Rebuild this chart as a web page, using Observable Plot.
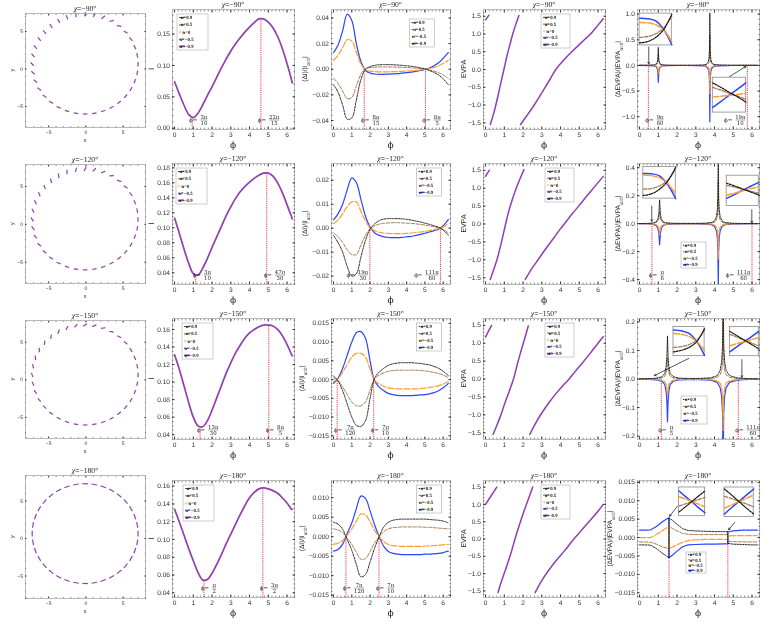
<!DOCTYPE html>
<html><head><meta charset="utf-8">
<script src="https://cdn.jsdelivr.net/npm/d3@7"></script>
<script src="https://cdn.jsdelivr.net/npm/@observablehq/plot@0.6"></script>
<style>
body{margin:0;background:#fff;}
#c{position:relative;width:763px;height:631px;overflow:hidden;background:#fff;}
#c svg{position:absolute;overflow:visible;will-change:transform;}
#c svg text{text-rendering:geometricPrecision;}
</style></head><body><div id="c"></div>
<script>
// ---------------- DATA ----------------
const titles = ["−90°", "−120°", "−150°", "−180°"];
const PHI = [0,0.25,0.5,0.75,1,1.25,1.5,1.75,2,2.25,2.5,2.75,3,3.25,3.5,3.75,4,4.25,4.5,4.75,5,5.25,5.5,5.75,6,6.25,6.28];

// column 2 : I(phi)
const I_r1 = [0.074,0.055,0.037,0.022,0.017,0.024,0.037,0.052,0.066,0.081,0.096,0.110,0.123,0.134,0.144,0.153,0.161,0.168,0.174,0.174,0.169,0.160,0.146,0.127,0.103,0.076,0.072];
const I_r2 = [0.113,0.093,0.072,0.053,0.039,0.037,0.046,0.059,0.074,0.088,0.102,0.116,0.128,0.139,0.148,0.155,0.161,0.166,0.170,0.173,0.173,0.169,0.160,0.147,0.131,0.114,0.112];
const I_r3 = [0.131,0.115,0.096,0.077,0.060,0.050,0.049,0.056,0.068,0.082,0.096,0.110,0.122,0.133,0.142,0.150,0.156,0.160,0.163,0.165,0.165,0.164,0.160,0.153,0.143,0.131,0.130];
const I_r4 = [0.134,0.120,0.105,0.090,0.076,0.063,0.0545,0.055,0.062,0.072,0.083,0.095,0.106,0.117,0.128,0.138,0.147,0.153,0.157,0.158,0.157,0.155,0.152,0.147,0.141,0.134,0.134];

// column 3 : dI / I  (alpha = 0.9, 0.5, -0.5, -0.9)
const dI1_a09  = [-0.012,-0.018,-0.028,-0.039,-0.038,-0.024,-0.008,0.000,0.002,0.003,0.0035,0.0036,0.0036,0.0035,0.0033,0.003,0.0027,0.0023,0.0018,0.0011,0.0003,-0.001,-0.0025,-0.0045,-0.0075,-0.0115,-0.012];
const dI1_a05  = [-0.007,-0.011,-0.017,-0.023,-0.022,-0.013,-0.004,0.0003,0.0013,0.0016,0.0018,0.0018,0.0018,0.0017,0.0016,0.0015,0.0013,0.0011,0.0008,0.0005,0.0001,-0.0006,-0.0015,-0.0027,-0.0045,-0.0067,-0.007];
const dI1_am05 = [0.007,0.011,0.017,0.023,0.022,0.013,0.004,-0.0005,-0.0015,-0.0018,-0.002,-0.002,-0.002,-0.0019,-0.0018,-0.0016,-0.0014,-0.0012,-0.0009,-0.0005,-0.0001,0.0006,0.0015,0.0027,0.0045,0.0067,0.007];
const dI1_am09 = [0.013,0.019,0.030,0.043,0.038,0.020,0.006,-0.001,-0.003,-0.0037,-0.004,-0.004,-0.0038,-0.0036,-0.0034,-0.003,-0.0027,-0.0023,-0.0017,-0.001,-0.0002,0.001,0.0028,0.005,0.0085,0.0125,0.013];

const dI2_a09  = [-0.003,-0.006,-0.010,-0.016,-0.020,-0.019,-0.012,-0.005,-0.0005,0.0018,0.0032,0.0038,0.004,0.004,0.004,0.0039,0.0037,0.0034,0.003,0.0026,0.0021,0.0016,0.001,0.0004,-0.0008,-0.0027,-0.003];
const dI2_a05  = [-0.002,-0.0035,-0.006,-0.009,-0.011,-0.011,-0.007,-0.003,-0.0002,0.001,0.0017,0.002,0.0022,0.0023,0.0023,0.0022,0.0021,0.002,0.0018,0.0016,0.0013,0.001,0.0006,0.0002,-0.0005,-0.0018,-0.002];
const dI2_am05 = [0.002,0.0035,0.006,0.009,0.011,0.011,0.007,0.003,0.0002,-0.001,-0.0017,-0.002,-0.0022,-0.0023,-0.0023,-0.0023,-0.0022,-0.002,-0.0018,-0.0016,-0.0013,-0.001,-0.0006,-0.0002,0.0005,0.0018,0.002];
const dI2_am09 = [0.0035,0.006,0.010,0.016,0.021,0.019,0.012,0.005,0.0005,-0.002,-0.003,-0.0036,-0.0038,-0.0039,-0.0039,-0.0038,-0.0036,-0.0034,-0.003,-0.0026,-0.0021,-0.0016,-0.001,-0.0004,0.001,0.0033,0.0036];

const dI3_a09  = [0.001,-0.0004,-0.003,-0.0065,-0.010,-0.0122,-0.0125,-0.011,-0.005,0.0004,0.002,0.003,0.0038,0.0042,0.0044,0.0045,0.0045,0.0045,0.0044,0.0043,0.0041,0.0039,0.0035,0.003,0.0022,0.0012,0.001];
const dI3_a05  = [0.0005,-0.0002,-0.002,-0.004,-0.006,-0.007,-0.007,-0.006,-0.0028,0.0002,0.0012,0.0018,0.0022,0.0024,0.0025,0.0025,0.0025,0.0025,0.0025,0.0024,0.0023,0.0021,0.0019,0.0016,0.0012,0.0006,0.0005];
const dI3_am05 = [-0.0005,0.0002,0.002,0.004,0.006,0.007,0.007,0.006,0.0028,-0.0002,-0.0012,-0.0018,-0.0022,-0.0024,-0.0025,-0.0025,-0.0025,-0.0025,-0.0025,-0.0024,-0.0023,-0.0021,-0.0019,-0.0016,-0.0012,-0.0006,-0.0005];
const dI3_am09 = [-0.001,0.0004,0.003,0.0065,0.010,0.0125,0.0128,0.011,0.005,-0.0004,-0.002,-0.003,-0.0037,-0.004,-0.0042,-0.0043,-0.0043,-0.0043,-0.0042,-0.0041,-0.004,-0.0038,-0.0035,-0.003,-0.0022,-0.0012,-0.001];

const dI4_a09  = [0.0037,0.0032,0.0019,-0.0008,-0.0035,-0.0071,-0.0103,-0.0097,-0.0065,-0.0029,0.0,0.0025,0.0037,0.0042,0.0044,0.0045,0.0045,0.0045,0.0045,0.0045,0.0045,0.0044,0.0043,0.0042,0.004,0.0036,0.0035];
const dI4_a05  = [0.002,0.0017,0.001,-0.0004,-0.002,-0.004,-0.0058,-0.0056,-0.0038,-0.0016,0.0,0.0013,0.002,0.0023,0.0024,0.0025,0.0025,0.0025,0.0025,0.0025,0.0024,0.0024,0.0023,0.0022,0.0021,0.002,0.002];
const dI4_am05 = [-0.002,-0.0017,-0.001,0.0004,0.002,0.004,0.0058,0.0056,0.0038,0.0016,0.0,-0.0013,-0.002,-0.0023,-0.0024,-0.0025,-0.0025,-0.0025,-0.0025,-0.0025,-0.0024,-0.0024,-0.0023,-0.0022,-0.0021,-0.002,-0.002];
const dI4_am09 = [-0.0037,-0.0033,-0.0019,0.0008,0.0035,0.0072,0.0104,0.0098,0.0066,0.003,0.0,-0.0025,-0.0038,-0.0043,-0.0045,-0.0046,-0.0046,-0.0046,-0.0046,-0.0046,-0.0045,-0.0045,-0.0044,-0.0043,-0.0041,-0.0037,-0.0037];

// column 4 : EVPA segments
const evPhi_r1 = [[0,0.09,0.18],[0.25,0.4,0.55,0.7,0.85,1.0,1.15,1.3,1.45,1.6,1.78],[1.87,2.0,2.3,2.6,3.0,3.4,3.75,4.2,4.6,5.0,5.3,5.6,6.0,6.28]];
const ev_r1    = [[1.4,1.46,1.53],[-1.55,-1.3,-1.0,-0.65,-0.3,0.05,0.4,0.7,1.0,1.25,1.52],[-1.55,-1.45,-1.23,-1.0,-0.66,-0.31,0.0,0.28,0.5,0.7,0.85,1.0,1.25,1.43]];
const evPhi_r2 = [[0,0.1,0.2],[0.25,0.45,0.65,0.85,1.07,1.25,1.45,1.65,1.85,2.05],[2.12,2.4,2.8,3.2,3.6,4.0,4.2,4.6,5.0,5.4,5.8,6.28]];
const ev_r2    = [[1.33,1.42,1.5],[-1.55,-1.25,-0.92,-0.5,0.0,0.38,0.72,1.02,1.28,1.52],[-1.55,-1.3,-1.0,-0.7,-0.42,-0.13,0.0,0.27,0.52,0.78,1.03,1.33]];
const evPhi_r3 = [[0,0.15,0.32],[0.4,0.6,0.8,1.0,1.25,1.49,1.7,1.9,2.1,2.28],[2.36,2.6,3.0,3.4,3.8,4.1,4.46,4.8,5.2,5.6,6.0,6.28]];
const ev_r3    = [[1.17,1.33,1.5],[-1.55,-1.3,-1.03,-0.72,-0.36,0.0,0.42,0.8,1.15,1.48],[-1.55,-1.3,-0.95,-0.65,-0.38,-0.2,0.0,0.22,0.47,0.73,1.0,1.18]];
const evPhi_r4 = [[0,0.3,0.6],[0.66,0.85,1.1,1.35,1.57,1.8,2.05,2.3,2.52],[2.64,3.0,3.4,3.8,4.2,4.71,5.2,5.6,6.0,6.28]];
const ev_r4    = [[1.0,1.25,1.5],[-1.55,-1.22,-0.83,-0.42,0.0,0.4,0.8,1.18,1.5],[-1.55,-1.2,-0.88,-0.6,-0.35,0.0,0.3,0.55,0.8,1.0]];

// column 5 : dEVPA / |EVPA|
const p5_r1 = [0,0.5,0.8,0.9,0.95,0.98,1.0,1.02,1.05,1.1,1.2,1.5,2.0,2.5,3.0,3.4,3.55,3.65,3.7,3.73,3.75,3.77,3.8,3.85,3.95,4.25,5.0,5.5,6.0,6.28];
const e1_a09  = [0.0005,0.003,0.012,0.03,0.07,0.15,0.35,0.15,0.07,0.03,0.012,0.004,0.002,0.002,0.003,0.008,0.02,0.06,0.12,0.3,1.02,0.3,0.12,0.06,0.02,0.008,0.002,0.001,0.0005,0.0005];
const e1_a05  = [0.0003,0.0015,0.006,0.015,0.035,0.075,0.2,0.075,0.035,0.015,0.006,0.002,0.001,0.001,0.0015,0.004,0.01,0.03,0.06,0.15,0.6,0.15,0.06,0.03,0.01,0.004,0.001,0.0005,0.0003,0.0003];
const e1_am05 = [-0.0003,-0.0015,-0.006,-0.015,-0.035,-0.07,-0.15,-0.07,-0.035,-0.015,-0.006,-0.002,-0.001,-0.001,-0.0015,-0.004,-0.01,-0.03,-0.06,-0.15,-0.55,-0.15,-0.06,-0.03,-0.01,-0.004,-0.001,-0.0005,-0.0003,-0.0003];
const e1_am09 = [-0.0005,-0.003,-0.012,-0.03,-0.07,-0.15,-0.33,-0.15,-0.07,-0.03,-0.012,-0.004,-0.002,-0.002,-0.003,-0.008,-0.02,-0.06,-0.12,-0.3,-1.1,-0.3,-0.12,-0.06,-0.02,-0.008,-0.002,-0.001,-0.0005,-0.0005];

const p5_r2 = [0,0.5,0.75,0.9,0.98,1.03,1.07,1.11,1.16,1.24,1.4,1.7,2.2,3.0,3.5,3.85,4.0,4.1,4.15,4.18,4.2,4.22,4.25,4.3,4.4,4.55,4.9,5.5,6.0,6.28];
const e2_a09  = [0.0005,0.002,0.006,0.015,0.035,0.07,0.17,0.07,0.035,0.015,0.006,0.003,0.002,0.002,0.003,0.008,0.02,0.05,0.1,0.2,0.55,0.2,0.1,0.05,0.02,0.008,0.003,0.001,0.0005,0.0005];
const e2_a05  = [0.0003,0.001,0.003,0.008,0.018,0.035,0.09,0.035,0.018,0.008,0.003,0.0015,0.001,0.001,0.0015,0.004,0.01,0.025,0.05,0.1,0.3,0.1,0.05,0.025,0.01,0.004,0.0015,0.0005,0.0003,0.0003];
const e2_am05 = [-0.0003,-0.001,-0.003,-0.008,-0.018,-0.035,-0.08,-0.035,-0.018,-0.008,-0.003,-0.0015,-0.001,-0.001,-0.0015,-0.004,-0.01,-0.025,-0.05,-0.1,-0.25,-0.1,-0.05,-0.025,-0.01,-0.004,-0.0015,-0.0005,-0.0003,-0.0003];
const e2_am09 = [-0.0005,-0.002,-0.006,-0.015,-0.035,-0.07,-0.15,-0.07,-0.035,-0.015,-0.006,-0.003,-0.002,-0.002,-0.003,-0.008,-0.02,-0.05,-0.1,-0.2,-0.43,-0.2,-0.1,-0.05,-0.02,-0.008,-0.003,-0.001,-0.0005,-0.0005];

const p5_r3 = [0,0.5,0.9,1.2,1.35,1.42,1.46,1.49,1.52,1.56,1.63,1.8,2.1,2.6,3.2,3.8,4.15,4.3,4.38,4.43,4.46,4.49,4.54,4.62,4.8,5.2,5.8,6.28];
const e3_a09  = [0.0005,0.001,0.003,0.008,0.02,0.045,0.08,0.15,0.08,0.045,0.02,0.008,0.003,0.002,0.002,0.004,0.012,0.03,0.06,0.12,0.35,0.12,0.06,0.03,0.012,0.004,0.001,0.0005];
const e3_a05  = [0.0003,0.0005,0.0015,0.004,0.01,0.022,0.04,0.075,0.04,0.022,0.01,0.004,0.0015,0.001,0.001,0.002,0.006,0.015,0.03,0.06,0.2,0.06,0.03,0.015,0.006,0.002,0.0005,0.0003];
const e3_am05 = [-0.0003,-0.0005,-0.0015,-0.004,-0.01,-0.02,-0.035,-0.06,-0.035,-0.02,-0.01,-0.004,-0.0015,-0.001,-0.001,-0.002,-0.006,-0.015,-0.03,-0.06,-0.18,-0.06,-0.03,-0.015,-0.006,-0.002,-0.0005,-0.0003];
const e3_am09 = [-0.0005,-0.001,-0.003,-0.008,-0.02,-0.045,-0.08,-0.15,-0.08,-0.045,-0.02,-0.008,-0.003,-0.002,-0.002,-0.004,-0.012,-0.03,-0.06,-0.12,-0.35,-0.12,-0.06,-0.03,-0.012,-0.004,-0.001,-0.0005];

const p5_r4 = [0,0.3,0.6,0.9,1.2,1.4,1.57,1.57,1.75,2.0,2.3,2.6,3.0,3.5,4.0,4.5,4.71,4.71,5.0,5.5,6.0,6.28];
const e4_a09  = [-0.002,-0.002,-0.0021,-0.003,-0.0042,-0.0049,-0.0055,0.0053,0.0047,0.0036,0.0024,0.0019,0.0018,0.0017,0.0016,0.0016,0.0016,-0.0016,-0.0018,-0.0019,-0.002,-0.002];
const e4_a05  = [-0.0012,-0.0012,-0.0013,-0.0018,-0.0025,-0.0028,-0.003,0.003,0.0025,0.0018,0.0011,0.0009,0.0008,0.0008,0.0008,0.0008,0.0008,-0.001,-0.0011,-0.0012,-0.0012,-0.0012];
const e4_am05 = [0.0,0.0,0.0,0.0008,0.0018,0.0025,0.003,-0.003,-0.0026,-0.002,-0.0013,-0.0008,-0.0006,-0.0005,-0.0005,-0.0005,-0.0005,0.0004,0.0005,0.0005,0.0005,0.0005];
const e4_am09 = [0.002,0.002,0.0021,0.003,0.0042,0.0049,0.0054,-0.0055,-0.0048,-0.0037,-0.0025,-0.002,-0.0019,-0.0018,-0.0018,-0.0017,-0.0017,0.0015,0.0018,0.002,0.002,0.002];

// insets of column 5: boxes [x1,x2,y1,y2] and local curves (black, brown, orange, blue) on insetT
const insetT = [0,0.25,0.5,0.75,1];
const box_r1 = [[0,1.72,0.39,1.01],[3.91,5.67,-0.92,-0.24]];
const box_r2 = [[0.2,1.93,0.179,0.404],[4.65,6.36,0.127,0.343]];
const box_r3 = [[1.81,3.47,0.080,0.182],[4.82,6.36,0.080,0.182]];
const box_r4 = [[2.11,3.49,0.0058,0.0136],[4.53,6.09,0.0056,0.0136]];
const in_r1A = [[0.08,0.12,0.25,0.5,0.98],[0.25,0.28,0.36,0.55,0.92],[0.72,0.71,0.65,0.48,0.12],[0.85,0.84,0.77,0.5,0.02]];
const in_r1B = [[0.85,0.72,0.58,0.45,0.3],[0.72,0.64,0.55,0.47,0.38],[0.45,0.47,0.5,0.52,0.55],[0.15,0.32,0.5,0.67,0.85]];
const in_r2A = [[0.1,0.15,0.3,0.55,1.0],[0.3,0.32,0.4,0.58,0.95],[0.75,0.73,0.66,0.48,0.15],[0.8,0.79,0.72,0.45,0.0]];
const in_r2B = [[0.75,0.66,0.56,0.46,0.36],[0.68,0.62,0.55,0.48,0.42],[0.35,0.42,0.5,0.57,0.63],[0.25,0.38,0.52,0.65,0.78]];
const in_r3A = [[0.15,0.2,0.3,0.5,0.95],[0.3,0.33,0.4,0.55,0.9],[0.78,0.75,0.68,0.5,0.2],[0.9,0.87,0.78,0.5,0.02]];
const in_r3B = [[0.85,0.7,0.55,0.4,0.25],[0.75,0.65,0.55,0.45,0.35],[0.35,0.43,0.5,0.57,0.63],[0.15,0.33,0.5,0.67,0.85]];
const in_r4A = [[0.15,0.33,0.52,0.7,0.88],[0.35,0.43,0.5,0.58,0.65],[0.68,0.6,0.5,0.42,0.33],[0.88,0.68,0.5,0.3,0.12]];
const in_r4B = [[0.95,0.74,0.52,0.3,0.1],[0.7,0.62,0.53,0.44,0.35],[0.3,0.41,0.52,0.63,0.75],[0.1,0.32,0.53,0.74,0.95]];
// arrows [x1,y1,x2,y2]
const arr_r1 = [[0.49,0.36,0.49,0.03],[4.8,-0.22,5.67,-0.02]];
const arr_r2 = [[0.65,0.126,0.65,0.017],[5.99,0.10,5.99,0.006]];
const arr_r3 = [[2.62,0.072,0.79,0.012],[5.46,0.068,5.46,0.006]];
const arr_r4 = [[2.02,0.0085,1.6,0.0058],[5.08,0.0041,4.75,0.0021]];

// red marker lines [phi, top, numerator, denominator, side]
const mk2_r1 = [[0.94,0.017,"3π","10","r"],[4.61,0.174,"22π","15","r"]];
const mk2_r2 = [[1.13,0.037,"3π","10","r"],[4.92,0.173,"47π","30","r"]];
const mk2_r3 = [[1.36,0.049,"13π","30","r"],[5.03,0.165,"8π","5","r"]];
const mk2_r4 = [[1.57,0.0545,"π","2","r"],[4.71,0.158,"3π","2","r"]];
const mk3_r1 = [[1.68,0,"8π","15","r"],[5.03,0,"8π","5","r"]];
const mk3_r2 = [[1.99,0,"19π","30","l"],[5.85,0,"111π","60","l"]];
const mk3_r3 = [[0.2,0,"7π","120","r"],[2.2,0,"7π","10","r"]];
const mk3_r4 = [[0.68,0,"7π","120","r"],[2.49,0,"7π","10","r"]];
const mk5_r1 = [[0.47,0,"9π","60","r"],[5.75,0,"19π","10","l"]];
const mk5_r2 = [[0.66,0,"π","6","r"],[6.0,0,"111π","60","l"]];
const mk5_r3 = [[1.16,0,"π","5","r"],[5.27,0,"111π","60","r"]];
const mk5_r4 = [[1.57,-0.0052,"","",""],[4.71,-0.0017,"","",""]];

// column 1 : polarization ticks on the ring
const ringX = [7.0,6.89,6.57,6.05,5.34,4.47,3.45,2.33,1.13,-0.1,-1.33,-2.53,-3.65,-4.67,-5.54,-6.25,-6.77,-7.09,-7.2,-7.09,-6.77,-6.25,-5.54,-4.67,-3.65,-2.53,-1.33,-0.1,1.13,2.33,3.45,4.47,5.34,6.05,6.57,6.89];
const ringY = [0.65,1.81,2.92,3.98,4.93,5.74,6.41,6.9,7.2,7.3,7.2,6.9,6.41,5.74,4.93,3.98,2.92,1.81,0.65,-0.51,-1.62,-2.68,-3.63,-4.44,-5.11,-5.6,-5.9,-6.0,-5.9,-5.6,-5.11,-4.44,-3.63,-2.68,-1.62,-0.51];
const ang_r1 = [90,103,116,130,150,170,15,40,62,80,96,110,120,125,128,130,130,132,135,138,140,145,148,152,158,164,172,0,10,20,30,40,50,60,70,80];
const ang_r2 = [90,102,115,128,145,162,4,25,44,60,75,88,98,104,108,112,115,119,124,128,132,139,144,149,156,163,172,0,10,20,30,40,50,60,70,80];
const ang_r3 = [90,101,113,125,139,154,170,7,22,36,49,61,71,78,85,92,97,103,110,117,124,131,138,145,154,162,171,0,10,20,30,40,50,60,70,80];
const ang_r4 = [90,100,110,120,130,140,150,160,170,0,10,20,30,40,50,60,70,80,90,100,110,120,130,140,150,160,170,0,10,20,30,40,50,60,70,80];

// axes
const yd1 = [[-7.8,7.4],[-7.8,7.9],[-7.8,7.9],[-8.0,8.4]];
const yd2 = [[-0.002,0.189],[0.0244,0.1858],[0.0345,0.1725],[0.0347,0.1664]];
const yt2 = [[0,0.05,0.1,0.15],[0.04,0.06,0.08,0.1,0.12,0.14,0.16,0.18],[0.04,0.06,0.08,0.1,0.12,0.14,0.16],[0.04,0.06,0.08,0.1,0.12,0.14,0.16]];
const yd3 = [[-0.047,0.0466],[-0.0235,0.027],[-0.016,0.0163],[-0.0156,0.0144]];
const yt3 = [[-0.04,-0.02,0,0.02,0.04],[-0.02,-0.01,0,0.01,0.02],[-0.015,-0.01,-0.005,0,0.005,0.01,0.015],[-0.015,-0.01,-0.005,0,0.005,0.01]];
const yd4 = [-1.69,1.69];
const yt4 = [-1.5,-1,-0.5,0,0.5,1,1.5];
const yd5 = [[-1.25,1.09],[-0.435,0.43],[-0.212,0.212],[-0.0163,0.0155]];
const yt5 = [[-1,-0.5,0,0.5,1],[-0.4,-0.2,0,0.2,0.4],[-0.2,-0.1,0,0.1,0.2],[-0.015,-0.01,-0.005,0,0.005,0.01,0.015]];
const fmt3 = [".2f",".2f",".3f",".3f"];
const fmt5 = [".1f",".1f",".1f",".3f"];

// ---------------- LAYOUT / HELPERS ----------------
const W = document.getElementById("c");
const ML = 46, MR = 12, MT = 16, MB = 30;
const XD = [-0.11, 6.4], XT = [0,1,2,3,4,5,6];
const SANS = "'Liberation Sans', Arial, sans-serif", SERIF = "'Liberation Serif', 'DejaVu Serif', serif";
const PHIFONT = "'DejaVu Serif', 'Liberation Serif', serif";
const COLX = [[25,145],[172,294],[331,450],[483,605],[637,759]];
const ROWY = [[9,129],[163,284],[318,439],[480,597]];
const C1Y  = [[13,127],[164,283],[320,438],[475,598]];
const PURPLE = "#8f3fb0";
const INK = "#1a1a1a";
const S4 = [ // styles for alpha = 0.9, 0.5, -0.5, -0.9
  {stroke:"#111", strokeWidth:0.9, strokeDasharray:"1.6,1.2"},
  {stroke:"#a87c55", strokeWidth:1.0, strokeDasharray:"3.5,1.5"},
  {stroke:"#ff9d2e", strokeWidth:1.2, strokeDasharray:"6,2"},
  {stroke:"#2b45ff", strokeWidth:1.2}
];
const L5 = [
  {label:"α=0.9", stroke:"#111", sw:0.8},
  {label:"α=0.5", stroke:"#b89a78", sw:1.6},
  {label:"α=0", stroke:"#ffa23a", sw:1, dash:"2,1"},
  {label:"α=−0.5", stroke:"#3050ff", sw:1, dash:"2,1"},
  {label:"α=−0.9", stroke:PURPLE, sw:1.6}
];
const L4 = [
  {label:"α=0.9", stroke:"#111", sw:0.9, dash:"1.4,1"},
  {label:"α=0.5", stroke:"#a87c55", sw:1, dash:"2.5,1"},
  {label:"α=−0.5", stroke:"#ff9d2e", sw:1.2, dash:"3,1"},
  {label:"α=−0.9", stroke:"#2b45ff", sw:1.2}
];
const pts = (xs, ys) => xs.map((x, i) => ({x, y: ys[i]}));
const minor = (dom, step) => d3.range(Math.ceil(dom[0] / step - 1e-9) * step, dom[1] + 1e-9, step);

function panel(cx, cy, o) {
  const [l, r] = cx, [t, b] = cy, w = r - l, h = b - t;
  const tk = o.tk ?? 2.5, xt = o.xt ?? XT;
  const xd = o.xd ?? XD;
  const xm = minor(xd, o.xms ?? 0.2), ym = minor(o.yd, o.yms ?? (o.yt[1] - o.yt[0]) / 5);
  const svg = Plot.plot({
    width: w + ML + MR, height: h + MT + MB,
    marginLeft: ML, marginRight: MR, marginTop: MT, marginBottom: MB,
    x: {domain: xd}, y: {domain: o.yd},
    style: {background: "transparent", fontFamily: SANS, fontSize: (o.fs ?? 6.6) + "px", color: "#333", overflow: "visible"},
    marks: [
      ...o.marks,
      Plot.frame({stroke: "#a8a8a8", strokeWidth: 0.8}),
      Plot.axisX({ticks: xm, tickSize: -tk * 0.55, tickFormat: () => "", label: null, anchor: "bottom", strokeOpacity: 0.6}),
      Plot.axisX({ticks: xm, tickSize: -tk * 0.55, tickFormat: () => "", label: null, anchor: "top", strokeOpacity: 0.6}),
      Plot.axisY({ticks: ym, tickSize: -tk * 0.55, tickFormat: () => "", label: null, anchor: "left", strokeOpacity: 0.6}),
      Plot.axisY({ticks: ym, tickSize: -tk * 0.55, tickFormat: () => "", label: null, anchor: "right", strokeOpacity: 0.6}),
      Plot.axisX({ticks: xt, tickSize: -tk, tickPadding: tk + 2.5, tickFormat: o.xf ?? (d => String(d)), label: null, anchor: "bottom"}),
      Plot.axisX({ticks: xt, tickSize: -tk, tickFormat: () => "", label: null, anchor: "top"}),
      Plot.axisY({ticks: o.yt, tickSize: -tk, tickPadding: tk + 2.5, tickFormat: o.yf, label: null, anchor: "left"}),
      Plot.axisY({ticks: o.yt, tickSize: -tk, tickFormat: () => "", label: null, anchor: "right"}),
      ...(o.over ?? [])
    ]
  });
  svg.style.left = (l - ML) + "px";
  svg.style.top = (t - MT) + "px";
  W.appendChild(svg);
  const g = d3.select(svg);
  const P = {svg, g, w, h, x: svg.scale("x"), y: svg.scale("y")};
  // title
  const tt = g.append("text").attr("x", ML + w / 2).attr("y", MT - 2.2).attr("text-anchor", "middle")
    .style("font-family", SERIF).style("font-size", "7.6px").style("fill", INK);
  tt.append("tspan").style("font-style", "italic").text("χ");
  tt.append("tspan").text("=" + o.title);
  // x label
  g.append("text").attr("x", ML + w / 2).attr("y", MT + h + (o.xlOff ?? 19)).attr("text-anchor", "middle")
    .style("font-family", o.xl ? SANS : PHIFONT).style("font-size", (o.xlfs ?? 9) + "px").style("fill", INK).text(o.xl ?? "\u03D5");
  // y label
  const yl = g.append("text").attr("transform", `translate(${ML - o.ylOff},${MT + h / 2}) rotate(-90)`)
    .attr("text-anchor", "middle").attr("dy", "0.35em")
    .style("font-family", SANS).style("font-size", (o.ylfs ?? 6.6) + "px").style("fill", INK);
  o.yl.forEach(([s, sub]) => {
    const ts = yl.append("tspan").text(s);
    if (sub) ts.attr("baseline-shift", "sub").style("font-size", "4.6px");
  });
  return P;
}

function legend(P, x, y, w, h, entries) {
  const g = P.g.append("g").attr("transform", `translate(${ML + x},${MT + y})`);
  g.append("rect").attr("width", w).attr("height", h).attr("fill", "white").attr("stroke", "#9a9a9a").attr("stroke-width", 0.5);
  const dy = h / entries.length;
  entries.forEach((e, i) => {
    const yy = dy * (i + 0.5);
    g.append("line").attr("x1", 2).attr("x2", 8).attr("y1", yy).attr("y2", yy)
      .attr("stroke", e.stroke).attr("stroke-width", e.sw).attr("stroke-dasharray", e.dash || null);
    g.append("text").attr("x", 9.5).attr("y", yy).attr("dy", "0.35em")
      .style("font-family", SERIF).style("font-size", "4.8px").style("font-weight", "bold").style("fill", INK).text(e.label);
  });
}

function frac(P, phi, side, num, den) {
  if (!num) return;
  const px = P.x.apply(phi), py = MT + P.h - 9, fs = 5.4;
  const fw = Math.max(num.length, den.length) * fs * 0.55 + 1, pw = fs * 1.35;
  const x0 = side === "l" ? px - 1.5 - pw - fw : px + 1.5;
  const g = P.g.append("g").style("font-family", PHIFONT).style("font-size", fs + "px");
  g.append("text").attr("x", x0).attr("y", py).attr("dy", "0.35em").style("fill", INK).text("\u03D5=");
  const cx = x0 + pw + fw / 2;
  g.append("text").attr("x", cx).attr("y", py - 0.9).attr("text-anchor", "middle").style("fill", INK).text(num);
  g.append("text").attr("x", cx).attr("y", py + 0.9).attr("dy", "0.78em").attr("text-anchor", "middle").style("fill", INK).text(den);
  g.append("line").attr("x1", cx - fw / 2).attr("x2", cx + fw / 2).attr("y1", py).attr("y2", py).attr("stroke", INK).attr("stroke-width", 0.4);
}

const redRules = (mk, y0) => Plot.ruleX(mk.map(m => ({x: m[0], y1: y0, y2: m[1]})),
  {x: "x", y1: "y1", y2: "y2", stroke: "#e8141a", strokeWidth: 0.9, strokeDasharray: "1,0.9"});

function fourLines(xs, series, clip) {
  // draw order: blue, orange, brown, black
  return [3, 2, 1, 0].map(i => Plot.line(pts(xs, series[i]), {x: "x", y: "y", ...S4[i], curve: clip ? "linear" : "catmull-rom", clip: !!clip}));
}

function insetMarks(box, series) {
  const [x1, x2, y1, y2] = box;
  const m = [Plot.rect([{x1, x2, y1, y2}], {x1: "x1", x2: "x2", y1: "y1", y2: "y2", fill: "white", stroke: "#8a8a8a", strokeWidth: 0.8})];
  [3, 2, 1, 0].forEach(i => {
    const d = insetT.map((t, k) => ({x: x1 + t * (x2 - x1), y: y1 + series[i][k] * (y2 - y1)}));
    m.push(Plot.line(d, {x: "x", y: "y", ...S4[i], strokeWidth: S4[i].strokeWidth + 0.3, curve: "catmull-rom"}));
  });
  return m;
}

// ---------------- BUILD ----------------
const I_all = [I_r1, I_r2, I_r3, I_r4];
const dI_all = [[dI1_a09, dI1_a05, dI1_am05, dI1_am09], [dI2_a09, dI2_a05, dI2_am05, dI2_am09], [dI3_a09, dI3_a05, dI3_am05, dI3_am09], [dI4_a09, dI4_a05, dI4_am05, dI4_am09]];
const evPhi_all = [evPhi_r1, evPhi_r2, evPhi_r3, evPhi_r4], ev_all = [ev_r1, ev_r2, ev_r3, ev_r4];
const p5_all = [p5_r1, p5_r2, p5_r3, p5_r4];
const e_all = [[e1_a09, e1_a05, e1_am05, e1_am09], [e2_a09, e2_a05, e2_am05, e2_am09], [e3_a09, e3_a05, e3_am05, e3_am09], [e4_a09, e4_a05, e4_am05, e4_am09]];
const box_all = [box_r1, box_r2, box_r3, box_r4];
const in_all = [[in_r1A, in_r1B], [in_r2A, in_r2B], [in_r3A, in_r3B], [in_r4A, in_r4B]];
const arr_all = [arr_r1, arr_r2, arr_r3, arr_r4];
const mk2_all = [mk2_r1, mk2_r2, mk2_r3, mk2_r4], mk3_all = [mk3_r1, mk3_r2, mk3_r3, mk3_r4], mk5_all = [mk5_r1, mk5_r2, mk5_r3, mk5_r4];
const ang_all = [ang_r1, ang_r2, ang_r3, ang_r4];
const leg2x = [5, 4, 10, 11], leg4x = [58, 62, 62, 58];
const leg3 = [[0.66, 10], [0.72, 5], [0.72, 5], [0.72, 5]];
const leg5 = [null, [44, 79, 25, 26], [44, 78, 26, 28], [49, 72, 20, 21]];

for (let r = 0; r < 4; r++) {
  const title = titles[r];
  // ---- column 1: ring of polarization ticks
  const half = r === 3 ? 0.38 : 0.3;
  const ticks = ringX.map((x, i) => {
    const a = ang_all[r][i] * Math.PI / 180, dx = half * Math.cos(a), dy = half * Math.sin(a);
    return {x1: x - dx, y1: ringY[i] - dy, x2: x + dx, y2: ringY[i] + dy};
  });
  panel(COLX[0], C1Y[r], {
    title, xd: [-8.1, 8.0], yd: yd1[r], xt: [-5, 0, 5], yt: [-5, 0, 5], tk: 1.5, fs: 5, xms: 1, yms: 1,
    xf: d3.format("d"), yf: d3.format("d"), xl: "x", xlfs: 5.5, xlOff: 15, yl: [["y"]], ylOff: 13, ylfs: 5.5,
    marks: [Plot.link(ticks, {x1: "x1", y1: "y1", x2: "x2", y2: "y2", stroke: PURPLE, strokeWidth: 1.2})]
  });

  // ---- column 2: I
  const P2 = panel(COLX[1], ROWY[r], {
    title, yd: yd2[r], yt: yt2[r], yf: d3.format(".2f"), yl: [["I"]], ylOff: 21, ylfs: 8,
    yms: r === 0 ? 0.01 : 0.005,
    marks: [
      redRules(mk2_all[r], yd2[r][0]),
      Plot.line(pts(PHI, I_all[r]), {x: "x", y: "y", stroke: PURPLE, strokeWidth: 1.7, curve: "catmull-rom"})
    ]
  });
  legend(P2, leg2x[r], 5, 31, 36, L5);
  mk2_all[r].forEach(m => frac(P2, m[0], m[4], m[2], m[3]));

  // ---- column 3: dI/I
  const P3 = panel(COLX[2], ROWY[r], {
    title, yd: yd3[r], yt: yt3[r], yf: d3.format(fmt3[r]), yl: [["(ΔI)/|I"], ["α=0", true], ["|"]], ylOff: r < 2 ? 26 : 29,
    marks: [redRules(mk3_all[r], yd3[r][0]), ...fourLines(PHI, dI_all[r], false)]
  });
  legend(P3, P3.w * leg3[r][0], leg3[r][1], 25, 28, L4);
  mk3_all[r].forEach(m => frac(P3, m[0], m[4], m[2], m[3]));

  // ---- column 4: EVPA
  const P4 = panel(COLX[3], ROWY[r], {
    title, yd: yd4, yt: yt4, yf: d3.format(".1f"), yl: [["EVPA"]], ylOff: 19, ylfs: 7, yms: 0.1,
    marks: evPhi_all[r].map((xs, k) => Plot.line(pts(xs, ev_all[r][k]), {x: "x", y: "y", stroke: PURPLE, strokeWidth: 1.5, curve: "catmull-rom"}))
  });
  legend(P4, leg4x[r], 5, 29, 34, L5);

  // ---- column 5: dEVPA/|EVPA|
  const arrows = arr_all[r].map(a => ({x1: a[0], y1: a[1], x2: a[2], y2: a[3]}));
  const P5 = panel(COLX[4], ROWY[r], {
    title, yd: yd5[r], yt: yt5[r], yf: d3.format(fmt5[r]), yl: [["(ΔEVPA)/|EVPA"], ["α=0", true], ["|"]], ylOff: r < 3 ? 19 : 27,
    marks: [redRules(mk5_all[r], yd5[r][0]), ...fourLines(p5_all[r], e_all[r], true)],
    over: [
      ...insetMarks(box_all[r][0], in_all[r][0]),
      ...insetMarks(box_all[r][1], in_all[r][1]),
      Plot.arrow(arrows, {x1: "x1", y1: "y1", x2: "x2", y2: "y2", stroke: "#111", strokeWidth: 0.7, headLength: 4})
    ]
  });
  if (leg5[r]) legend(P5, ...leg5[r], L4);
  mk5_all[r].forEach(m => frac(P5, m[0], m[4], m[2], m[3]));
}
</script></body></html>
